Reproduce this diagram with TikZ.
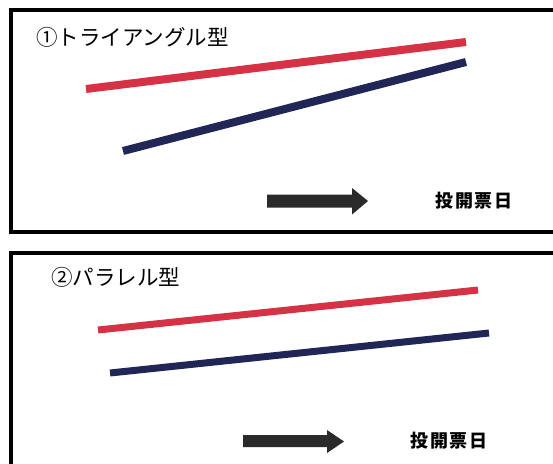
\documentclass[tikz,border=0pt]{standalone}
\usepackage{fontspec}
\newfontfamily\jp{Noto Sans CJK JP}
\definecolor{redline}{RGB}{214,50,70}
\definecolor{navyline}{RGB}{32,38,86}
\definecolor{arrowgray}{RGB}{42,42,42}
\tikzset{
  frame/.style={draw=black, line width=3.5pt},
  trendred/.style={draw=redline, line width=8pt, line cap=butt},
  trendblue/.style={draw=navyline, line width=8pt, line cap=butt},
  title/.style={font=\jp\fontsize{21.5}{24}\selectfont, anchor=west, inner sep=0pt},
  axislabel/.style={font=\jp\bfseries\fontsize{18}{20}\selectfont\addfontfeature{LetterSpace=8}, inner sep=0pt},
  bigarrow/.style={fill=arrowgray, draw=none}
}
\begin{document}
\begin{tikzpicture}[x=1pt,y=-1pt]
\useasboundingbox (0,0) rectangle (553,463);
\fill[white] (0,0) rectangle (553,463);
\begin{scope}
\clip (0,0) rectangle (553,463);
% panel 1
\draw[frame] (11,10) rectangle (570,232);
\node[title] (t1) at (36,37) {①トライアングル型};
\coordinate (r1a) at (86,89);
\coordinate (r1b) at (466,42);
\coordinate (b1a) at (123,151);
\coordinate (b1b) at (466,62);
\draw[trendred] (r1a) -- (r1b);
\draw[trendblue] (b1a) -- (b1b);
\fill[bigarrow] (267,194.5) -- (352,194.5) -- (352,188) -- (368,201) -- (352,214.5) -- (352,207.5) -- (267,207.5) -- cycle;
\node[axislabel] (l1) at (474,201) {投開票日};
% panel 2
\draw[frame] (11,253) rectangle (570,480);
\node[title] (t2) at (51,277) {②パラレル型};
\coordinate (r2a) at (98,330);
\coordinate (r2b) at (478,290);
\coordinate (b2a) at (110,373);
\coordinate (b2b) at (489,333);
\draw[trendred, line width=7pt] (r2a) -- (r2b);
\draw[trendblue, line width=7pt] (b2a) -- (b2b);
\fill[bigarrow] (243,435) -- (327,435) -- (327,430) -- (344,441.5) -- (327,453) -- (327,447) -- (243,447) -- cycle;
\node[axislabel] (l2) at (449,441) {投開票日};
\end{scope}
\end{tikzpicture}
\end{document}
